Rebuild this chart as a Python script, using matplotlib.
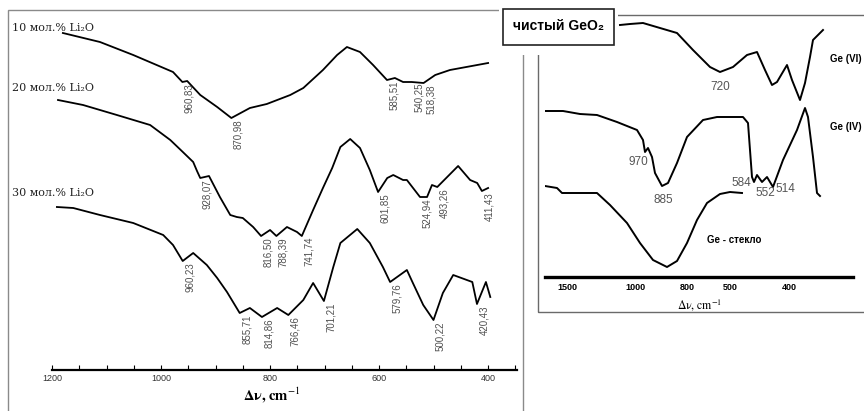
import matplotlib
matplotlib.use('Agg')
import matplotlib.pyplot as plt
from matplotlib.patches import Rectangle
from matplotlib.ticker import MultipleLocator
import numpy as np

plt.rcParams['mathtext.fontset'] = 'stix'

# ---- left panel: Li2O-GeO2 glasses, wavenumber (cm-1) vs relative intensity
w10 = [1180, 1112, 1051, 978, 960.83, 952, 928, 897, 870.98, 837, 806, 763, 739, 703,
       677, 659, 635, 611, 585.51, 571, 556, 540.25, 518.38, 497, 470, 400]
i10 = [337, 328, 315, 298, 288, 289, 275, 263, 252, 262, 266, 275, 282, 300,
       315, 323, 318, 305, 290, 292, 288, 288, 287, 295, 300, 307]
p10 = [960.83, 870.98, 585.51, 540.25, 518.38]

w20 = [1189, 1143, 1081, 1020, 983, 960, 941, 934, 928.07, 920, 912, 892, 873, 861, 850,
       831, 816.50, 800, 788.39, 769, 750.5, 741.74, 721, 703, 686, 671, 653, 635, 617,
       601.85, 585, 574, 556, 549, 524.94, 512, 503, 493.26, 455, 433, 420, 411.43, 400]
i20 = [270, 265, 255, 245, 230, 218, 208, 199, 192, 193, 194, 173, 155, 153, 152,
       143, 134, 140, 134, 143, 138, 134, 160, 182, 202, 223, 231, 222, 200,
       178, 192, 195, 190, 190, 173, 173, 185, 183, 204, 190, 187, 179, 182]
p20 = [928.07, 816.50, 788.39, 741.74, 601.85, 524.94, 493.26, 411.43]

w30 = [1191, 1161, 1112, 1051, 996, 978, 960.23, 941, 916, 897, 879, 855.71, 837, 814.86,
       787, 766.46, 739, 721, 701.21, 684, 671, 640, 617, 593, 579.76, 549, 538, 519,
       500.22, 483, 464, 439, 429, 420.43, 404, 396]
i30 = [163, 162, 155, 147, 135, 125, 109, 117, 105, 92, 78, 57, 62, 53,
       62, 55, 70, 87, 69, 103, 127, 141, 127, 103, 88, 100, 87, 65,
       50, 77, 95, 90, 88, 66, 88, 73]
p30 = [960.23, 855.71, 814.86, 766.46, 701.21, 579.76, 500.22, 420.43]

names_left = ['10 мол.% Li₂O', '20 мол.% Li₂O', '30 мол.% Li₂O']

# ---- right panel: pure GeO2, plotted against position along the printed axis
tick_pos = [22, 90, 142, 185, 244]
tick_lab = ['1500', '1000', '800', '500', '400']

pos6 = [75, 85, 98, 115, 132, 148, 165, 175, 188, 202, 212, 220, 227, 232, 242, 247,
        255, 260, 265, 268, 278]
h6 = [252, 253, 254, 249, 244, 227, 210, 205, 210, 222, 225, 207, 192, 195, 212, 197,
      177, 194, 220, 237, 247]

pos4 = [0, 18, 35, 52, 72, 92, 98, 100, 103, 107, 110, 117, 123, 132, 142, 158, 172,
        198, 203, 207, 209, 212, 217, 222, 228, 238, 252, 260, 263, 268, 272, 275]
h4 = [166, 166, 163, 162, 155, 147, 137, 125, 129, 120, 104, 91, 94, 114, 140, 157, 160,
      160, 154, 100, 95, 102, 95, 100, 90, 117, 147, 169, 160, 120, 84, 81]

posg = [0, 12, 17, 32, 52, 65, 82, 95, 108, 122, 132, 142, 152, 162, 175, 185, 197]
hg = [91, 89, 84, 84, 84, 72, 54, 34, 17, 10, 16, 34, 57, 74, 83, 85, 84]

# peak label, curve, point index, text offset (px), alignment
peaks_r = [('720', 'VI', 7, (0, -15), 'center'),
           ('970', 'IV', 7, (3, -10), 'right'),
           ('885', 'IV', 11, (1, -14), 'center'),
           ('584', 'IV', 20, (-3, -1), 'right'),
           ('552', 'IV', 22, (3, -11), 'center'),
           ('514', 'IV', 24, (2, -2), 'left')]

W, H = 864, 411
fig = plt.figure(figsize=(W / 100, H / 100), dpi=100)


def box(x0, y0, x1, y1):
    # pixel box (top-left origin) -> figure fraction rect
    return [x0 / W, 1 - y1 / H, (x1 - x0) / W, (y1 - y0) / H]


serif = ['DejaVu Serif']
sans = ['Liberation Sans', 'DejaVu Sans']
xlabel = 'Δν, cm$^{-1}$'

# ---------------- left axes
ax = fig.add_axes(box(52, 15, 517, 370))
ax.set_facecolor('none')
ax.set_xlim(1200, 347)
ax.set_ylim(0, 355)
for s in ['left', 'right', 'top']:
    ax.spines[s].set_visible(False)
ax.spines['bottom'].set_linewidth(1.6)
ax.set_yticks([])
ax.xaxis.set_major_locator(MultipleLocator(200))
ax.xaxis.set_minor_locator(MultipleLocator(50))
ax.tick_params(axis='x', which='both', direction='in', length=3.5, width=0.8,
               pad=3, labelsize=6.5, labelcolor='#333')
for lab in ax.get_xticklabels():
    lab.set_family(sans)

for w, i, peaks in [(w10, i10, p10), (w20, i20, p20), (w30, i30, p30)]:
    ax.plot(w, i, color='black', lw=1.3, solid_joinstyle='round')
    for v in peaks:
        y = i[w.index(v)]
        ax.annotate(f'{v:.2f}'.replace('.', ','), (v, y), xytext=(7, -1),
                    textcoords='offset pixels', rotation=90, ha='center', va='top',
                    fontsize=7, color='#505050', family=sans)

for name, yy in zip(names_left, [342, 282, 177]):
    ax.text(-40 / 465, yy / 355, name, transform=ax.transAxes, fontsize=8,
            family=serif, color='#222', va='center', ha='left', clip_on=False)

ax.text((272 - 52) / 465, -(395 - 370) / 355, xlabel, transform=ax.transAxes,
        ha='center', va='center', fontsize=10.5, family='STIXGeneral',
        fontweight='bold')

# ---------------- right axes
ax2 = fig.add_axes(box(545, 15, 853, 277))
ax2.set_facecolor('none')
ax2.set_xlim(0, 308)
ax2.set_ylim(0, 262)
for s in ['left', 'right', 'top']:
    ax2.spines[s].set_visible(False)
ax2.spines['bottom'].set_linewidth(2.4)
ax2.set_yticks([])
ax2.set_xticks(tick_pos)
ax2.set_xticklabels(tick_lab, fontweight='bold', family=sans)
ax2.tick_params(axis='x', length=0, pad=4, labelsize=6.5)

curves = {'VI': (pos6, h6), 'IV': (pos4, h4)}
ax2.plot(pos6, h6, color='black', lw=1.4, solid_joinstyle='round')
ax2.plot(pos4, h4, color='black', lw=1.4, solid_joinstyle='round')
ax2.plot(posg, hg, color='black', lw=1.4, solid_joinstyle='round')

for txt, key, k, off, ha in peaks_r:
    xs, ys = curves[key]
    ax2.annotate(txt, (xs[k], ys[k]), xytext=off, textcoords='offset pixels',
                 ha=ha, va='center', fontsize=8.5, color='#555', family=sans)

ax2.text(285, 218, 'Ge (VI)', fontsize=7, fontweight='bold', family=sans,
         va='center', clip_on=False)
ax2.text(285, 150, 'Ge (IV)', fontsize=7, fontweight='bold', family=sans,
         va='center', clip_on=False)
ax2.text(162, 37, 'Ge - стекло', fontsize=7, fontweight='bold', family=sans,
         va='center')
ax2.text((700 - 545) / 308, -(305 - 277) / 262, xlabel, transform=ax2.transAxes,
         ha='center', va='center', fontsize=8.5, family='STIXGeneral')

# ---------------- frames and title box
fig.add_artist(Rectangle(box(8, 10, 523, 414)[:2], *box(8, 10, 523, 414)[2:],
                         transform=fig.transFigure, fill=False, ec='#8a8a8a', lw=1,
                         zorder=1))
fig.add_artist(Rectangle(box(538, 15, 868, 312)[:2], *box(538, 15, 868, 312)[2:],
                         transform=fig.transFigure, fill=False, ec='#6a6a6a', lw=1,
                         zorder=1))
fig.add_artist(Rectangle(box(499, 0, 618, 55)[:2], *box(499, 0, 618, 55)[2:],
                         transform=fig.transFigure, fc='white', ec='none', zorder=3))
fig.add_artist(Rectangle(box(503, 9, 614, 45)[:2], *box(503, 9, 614, 45)[2:],
                         transform=fig.transFigure, fc='white', ec='#222', lw=1.2,
                         zorder=4))
fig.text(558.5 / W, 1 - 26 / H, 'чистый GeO₂', ha='center', va='center',
         fontsize=10, fontweight='bold', family=sans, zorder=5)

fig.savefig('out.png', dpi=100)
